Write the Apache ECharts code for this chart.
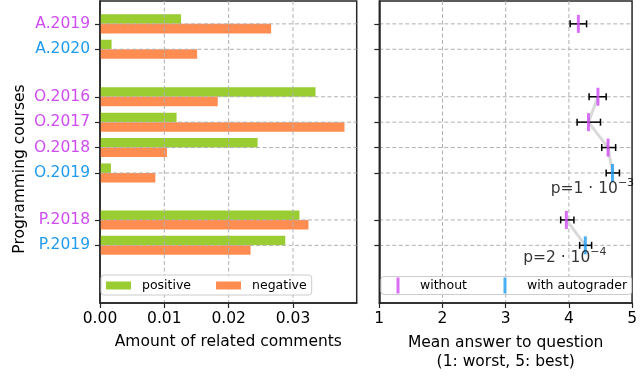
<!DOCTYPE html>
<html>
<head>
<meta charset="utf-8">
<script src="https://cdn.jsdelivr.net/npm/echarts@6/dist/echarts.min.js"></script>
<style>html,body{margin:0;padding:0;background:#fff;}#c{width:640px;height:389px;}</style>
</head>
<body>
<div id="c"></div>
<script>
// ---------------- data ----------------
const courses = ['A.2019', 'A.2020', 'O.2016', 'O.2017', 'O.2018', 'O.2019', 'P.2018', 'P.2019'];
const coursePos = [0, 1, 2.87, 3.87, 4.87, 5.87, 7.72, 8.72];
const courseGroup = ['A', 'A', 'O', 'O', 'O', 'O', 'P', 'P'];
const usesAutograder = [false, true, false, false, false, true, false, true];
const positive = [0.0126, 0.0018, 0.0335, 0.0119, 0.0245, 0.0017, 0.0310, 0.0288];
const negative = [0.0266, 0.0151, 0.0183, 0.0380, 0.0104, 0.0086, 0.0324, 0.0234];
const meanAnswer = [4.15, null, 4.46, 4.31, 4.62, 4.69, 3.96, 4.26];
const errLow = [4.02, null, 4.32, 4.13, 4.52, 4.59, 3.87, 4.17];
const errHigh = [4.28, null, 4.59, 4.50, 4.74, 4.80, 4.08, 4.36];
const leftTicks = [0, 0.01, 0.02, 0.03];
const rightTicks = [1, 2, 3, 4, 5];
const pNotes = [
  { base: 'p=1 · 10', exp: '−3', x: 4.953, y: 6.50 },
  { base: 'p=2 · 10', exp: '−4', x: 4.517, y: 9.22 }
];

// ---------------- style ----------------
const FONT = 'DejaVu Sans';
const C_POS = '#9acd32';
const C_NEG = '#ff8c50';
const C_WITHOUT = '#cf4bf2';
const C_WITH = '#1e9bf0';
const C_AXIS = '#262626';
const C_GRID = '#b0b0b0';
const Y_MIN = -0.9, Y_MAX = 10.99;

function courseIndex(v) {
  v = Number(v);
  for (let i = 0; i < coursePos.length; i++) if (Math.abs(coursePos[i] - v) < 1e-6) return i;
  return -1;
}

function hGridRender(params, api) {
  const cs = params.coordSys;
  const y = api.coord([api.value(0), api.value(1)])[1];
  return { type: 'line', shape: { x1: cs.x, y1: y, x2: cs.x + cs.width, y2: y },
    style: { stroke: C_GRID, lineWidth: 1, lineDash: [4, 2.5] } };
}
function vGridRender(params, api) {
  const cs = params.coordSys;
  const x = api.coord([api.value(0), api.value(1)])[0];
  return { type: 'line', shape: { x1: x, y1: cs.y, x2: x, y2: cs.y + cs.height },
    style: { stroke: C_GRID, lineWidth: 1, lineDash: [4, 2.5] } };
}
function barRender(up, color) {
  return function (params, api) {
    const v = api.value(0), pos = api.value(1);
    const a = api.coord([0, pos]);
    const b = api.coord([v, pos]);
    const h = Math.abs(api.size([0, 0.375])[1]);
    return { type: 'rect', shape: { x: a[0], y: up ? a[1] - h : a[1], width: b[0] - a[0], height: h },
      style: { fill: color } };
  };
}
function errRender(params, api) {
  const lo = api.coord([api.value(0), api.value(2)]);
  const hi = api.coord([api.value(1), api.value(2)]);
  const c = 3.5;
  const st = { stroke: '#000', lineWidth: 1.5 };
  return { type: 'group', children: [
    { type: 'line', shape: { x1: lo[0], y1: lo[1], x2: hi[0], y2: hi[1] }, style: st },
    { type: 'line', shape: { x1: lo[0], y1: lo[1] - c, x2: lo[0], y2: lo[1] + c }, style: st },
    { type: 'line', shape: { x1: hi[0], y1: hi[1] - c, x2: hi[0], y2: hi[1] + c }, style: st }
  ] };
}

const lineData = [];
const errData = [];
const withoutData = [];
const withData = [];
for (let i = 0; i < courses.length; i++) {
  if (i > 0 && courseGroup[i] !== courseGroup[i - 1]) lineData.push(['-', '-']);
  if (meanAnswer[i] == null) continue;
  lineData.push([meanAnswer[i], coursePos[i]]);
  errData.push([errLow[i], errHigh[i], coursePos[i]]);
  (usesAutograder[i] ? withData : withoutData).push([meanAnswer[i], coursePos[i]]);
}

const chart = echarts.init(document.getElementById('c'), null, { renderer: 'canvas' });
const axisLineStyle = { color: C_AXIS, width: 1.5 };
const tickStyle = { color: C_AXIS, width: 1.2 };

chart.setOption({
  animation: false,
  textStyle: { fontFamily: FONT },
  grid: [
    { left: 100, top: 1, width: 256.7, height: 302, show: true, borderColor: C_AXIS, borderWidth: 1.5, backgroundColor: 'transparent' },
    { left: 379.3, top: 1, width: 256.7, height: 302, show: true, borderColor: C_AXIS, borderWidth: 1.5, backgroundColor: 'transparent' }
  ],
  xAxis: [
    { gridIndex: 0, type: 'value', min: 0, max: 0.0399, z: 5,
      axisLine: { show: true, onZero: false, lineStyle: axisLineStyle },
      axisTick: { show: true, length: 5, lineStyle: tickStyle, customValues: leftTicks },
      axisLabel: { customValues: leftTicks, formatter: v => Number(v).toFixed(2), fontSize: 15.5, color: '#000', margin: 8, fontFamily: FONT },
      splitLine: { show: false },
      name: 'Amount of related comments', nameLocation: 'middle', nameGap: 30,
      nameTextStyle: { fontSize: 15.5, color: '#000', fontFamily: FONT, lineHeight: 18.5 } },
    { gridIndex: 1, type: 'value', min: 1, max: 5, interval: 1, z: 5,
      axisLine: { show: true, onZero: false, lineStyle: axisLineStyle },
      axisTick: { show: true, length: 5, lineStyle: tickStyle, customValues: rightTicks },
      axisLabel: { customValues: rightTicks, fontSize: 15.5, color: '#000', margin: 8, fontFamily: FONT },
      splitLine: { show: false },
      name: 'Mean answer to question\n(1: worst, 5: best)', nameLocation: 'middle', nameGap: 31,
      nameTextStyle: { fontSize: 15.5, color: '#000', fontFamily: FONT, lineHeight: 18.5 } }
  ],
  yAxis: [
    { gridIndex: 0, type: 'value', inverse: true, min: Y_MIN, max: Y_MAX, z: 5,
      axisLine: { show: true, onZero: false, lineStyle: axisLineStyle },
      axisTick: { show: true, length: 5, lineStyle: tickStyle, customValues: coursePos },
      axisLabel: { customValues: coursePos, fontSize: 15.5, margin: 10, fontFamily: FONT,
        formatter: v => { const i = courseIndex(v); return i >= 0 ? courses[i] : ''; },
        color: (v) => { const i = courseIndex(v); return i >= 0 && usesAutograder[i] ? C_WITH : C_WITHOUT; } },
      splitLine: { show: false },
      name: 'Programming courses', nameLocation: 'middle', nameGap: 72, nameRotate: 90,
      nameTextStyle: { fontSize: 15.5, color: '#000', fontFamily: FONT, padding: [0, 34, 0, 0] } },
    { gridIndex: 1, type: 'value', inverse: true, min: Y_MIN, max: Y_MAX, z: 5,
      axisLine: { show: true, onZero: false, lineStyle: axisLineStyle },
      axisTick: { show: true, length: 5, lineStyle: tickStyle, customValues: coursePos },
      axisLabel: { show: false },
      splitLine: { show: false } }
  ],
  legend: [
    { left: 101, top: 275, orient: 'horizontal', z: 20, data: ['positive', 'negative'],
      icon: 'rect', itemWidth: 25, itemHeight: 8, itemGap: 25,
      padding: [4, 5, 3, 5], backgroundColor: 'rgba(255,255,255,0.85)', borderColor: '#cccccc', borderWidth: 1, borderRadius: 3,
      textStyle: { fontSize: 12.5, color: '#000', fontFamily: FONT, padding: [0, 0, 0, 6] } },
    { left: 381, top: 276.5, orient: 'horizontal', z: 20, data: ['without', 'with autograder'],
      icon: 'rect', itemWidth: 3, itemHeight: 16, itemGap: 36.5,
      padding: [1, 4.5, 1, 15.5], backgroundColor: 'rgba(255,255,255,0.85)', borderColor: '#cccccc', borderWidth: 1, borderRadius: 3,
      textStyle: { fontSize: 12.5, color: '#000', fontFamily: FONT, padding: [0, 0, 0, 15.5] } }
  ],
  series: [
    // left panel bars
    { type: 'custom', name: 'positive', xAxisIndex: 0, yAxisIndex: 0, z: 2, itemStyle: { color: C_POS },
      renderItem: barRender(true, C_POS), data: positive.map((v, i) => [v, coursePos[i]]), encode: { x: 0, y: 1 } },
    { type: 'custom', name: 'negative', xAxisIndex: 0, yAxisIndex: 0, z: 2, itemStyle: { color: C_NEG },
      renderItem: barRender(false, C_NEG), data: negative.map((v, i) => [v, coursePos[i]]), encode: { x: 0, y: 1 } },
    // left panel grid (drawn above bars)
    { type: 'custom', name: 'hgridL', xAxisIndex: 0, yAxisIndex: 0, z: 3, silent: true,
      renderItem: hGridRender, data: coursePos.map(p => [leftTicks[0], p]), encode: { x: 0, y: 1 } },
    { type: 'custom', name: 'vgridL', xAxisIndex: 0, yAxisIndex: 0, z: 3, silent: true,
      renderItem: vGridRender, data: leftTicks.slice(1).map(t => [t, coursePos[0]]), encode: { x: 0, y: 1 } },
    // right panel grid (below marks)
    { type: 'custom', name: 'hgridR', xAxisIndex: 1, yAxisIndex: 1, z: 1, silent: true,
      renderItem: hGridRender, data: coursePos.map(p => [rightTicks[0], p]), encode: { x: 0, y: 1 } },
    { type: 'custom', name: 'vgridR', xAxisIndex: 1, yAxisIndex: 1, z: 1, silent: true,
      renderItem: vGridRender, data: rightTicks.slice(1, -1).map(t => [t, coursePos[0]]), encode: { x: 0, y: 1 } },
    // connecting lines
    { type: 'line', name: 'trend', xAxisIndex: 1, yAxisIndex: 1, z: 2, symbol: 'none', silent: true,
      lineStyle: { color: '#d9d9d9', width: 3 }, data: lineData, connectNulls: false },
    // error bars
    { type: 'custom', name: 'err', xAxisIndex: 1, yAxisIndex: 1, z: 3, silent: true,
      renderItem: errRender, data: errData, encode: { x: [0, 1], y: 2 } },
    // markers
    { type: 'scatter', name: 'without', xAxisIndex: 1, yAxisIndex: 1, z: 4, symbol: 'rect', symbolSize: [3, 18],
      itemStyle: { color: C_WITHOUT }, data: withoutData },
    { type: 'scatter', name: 'with autograder', xAxisIndex: 1, yAxisIndex: 1, z: 4, symbol: 'rect', symbolSize: [3, 18],
      itemStyle: { color: C_WITH }, data: withData },
    // p-value annotations
    { type: 'scatter', name: 'pvals', xAxisIndex: 1, yAxisIndex: 1, z: 6, symbolSize: 0, silent: true,
      data: pNotes.map(n => ({ value: [n.x, n.y], base: n.base, exp: n.exp })),
      label: { show: true, position: 'left', distance: 0, offset: [5, 0],
        formatter: p => '{b|' + p.data.base + '}{e|' + p.data.exp + '}',
        rich: {
          b: { fontSize: 15.5, color: '#000', fontFamily: FONT, lineHeight: 23 },
          e: { fontSize: 11, color: '#000', fontFamily: FONT, verticalAlign: 'top', lineHeight: 11 }
        } } }
  ]
});
</script>
</body>
</html>
